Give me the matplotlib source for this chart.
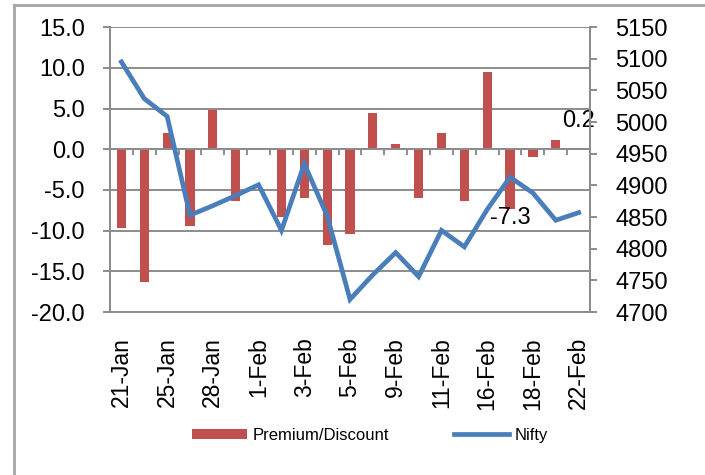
import matplotlib
matplotlib.use("Agg")
import matplotlib.pyplot as plt
from matplotlib.lines import Line2D
import numpy as np

dates = ["21-Jan", "", "25-Jan", "", "28-Jan", "", "1-Feb", "", "3-Feb", "",
         "5-Feb", "", "9-Feb", "", "11-Feb", "", "16-Feb", "", "18-Feb", "", "22-Feb"]
premium = [-9.7, -16.3, 2.0, -9.4, 4.8, -6.4, 0.0, -8.3, -6.0, -11.8, -10.4,
           4.5, 0.7, -6.0, 2.0, -6.3, 9.5, -7.3, -0.9, 1.1, 0.2]
nifty = [5095, 5037, 5009, 4853, 4868, 4884, 4901, 4829, 4934, 4852, 4720,
         4759, 4794, 4756, 4829, 4803, 4862, 4913, 4888, 4845, 4857]
labelled = {17: ("-7.3", -7), 20: ("0.2", 19)}

BAR = "#C0504D"
LINE = "#4A7EBB"
GRID = "#8C8C8C"

plt.rcParams["font.family"] = ["Liberation Sans", "DejaVu Sans"]

fig = plt.figure(figsize=(7.05, 4.75), dpi=100)
ax = fig.add_axes([0.156, 0.343, 0.681, 0.600])
ax2 = ax.twinx()

x = np.arange(len(premium))
ax.bar(x, premium, width=0.4, color=BAR, zorder=2, label="Premium/Discount")
ax2.plot(x, nifty, color=LINE, linewidth=3.4, solid_joinstyle="miter", zorder=3,
         label="Nifty")

# data labels on two bars
for i, (txt, off) in labelled.items():
    ax.annotate(txt, (x[i], premium[i]), xytext=(0, off), textcoords="offset points",
                ha="center", va="center", fontsize=17, zorder=5)

ax.set_xlim(-0.5, len(premium) - 0.5)
ax.set_ylim(-20, 15)
ax.set_yticks(np.arange(-20, 16, 5))
ax.set_yticklabels([f"{v:.1f}" for v in np.arange(-20, 16, 5)])
ax2.set_ylim(4700, 5150)
ax2.set_yticks(np.arange(4700, 5151, 50))

ax.yaxis.grid(True, color=GRID, linewidth=1.4)
ax.set_axisbelow(True)

# category axis sits at zero with ticks between categories
ax.spines["bottom"].set_position(("data", 0))
ax.set_xticks(np.arange(-0.5, len(premium), 1.0))
ax.set_xticklabels([])
ax.tick_params(axis="x", direction="out", length=4, width=1.4, color=GRID)

sec = ax.secondary_xaxis("bottom")
sec.set_xticks(x[::2])
sec.set_xticklabels(dates[::2], rotation=90, fontsize=16.5)
sec.tick_params(length=0, pad=18)
sec.spines["bottom"].set_color(GRID)
sec.spines["bottom"].set_linewidth(1.4)

for a in (ax, ax2):
    a.spines["top"].set_visible(False)
    for s in ("left", "right", "bottom"):
        a.spines[s].set_color(GRID)
        a.spines[s].set_linewidth(1.4)
ax2.spines["bottom"].set_visible(False)
ax.tick_params(axis="y", direction="out", length=5, width=1.4, color=GRID,
               labelsize=17, pad=13)
ax2.tick_params(axis="y", direction="out", length=5, width=1.4, color=GRID,
                labelsize=17, pad=13)

h1, l1 = ax.get_legend_handles_labels()
h2, l2 = ax2.get_legend_handles_labels()
fig.legend(h1 + h2, l1 + l2, loc="center", bbox_to_anchor=(0.525, 0.084), ncol=2,
           frameon=False, handlelength=3.3, handleheight=0.55,
           columnspacing=3.9, handletextpad=0.35,
           prop={"family": ["Liberation Sans Narrow", "Liberation Sans"], "size": 12})

# outer chart frame (top and left edges visible)
fig.add_artist(Line2D([14 / 705, 14 / 705], [0, 1 - 5 / 475], color="#A6A6A6", linewidth=2))
fig.add_artist(Line2D([14 / 705, 1], [1 - 5 / 475, 1 - 5 / 475], color="#A6A6A6", linewidth=2))

fig.savefig("out.png", dpi=100)
